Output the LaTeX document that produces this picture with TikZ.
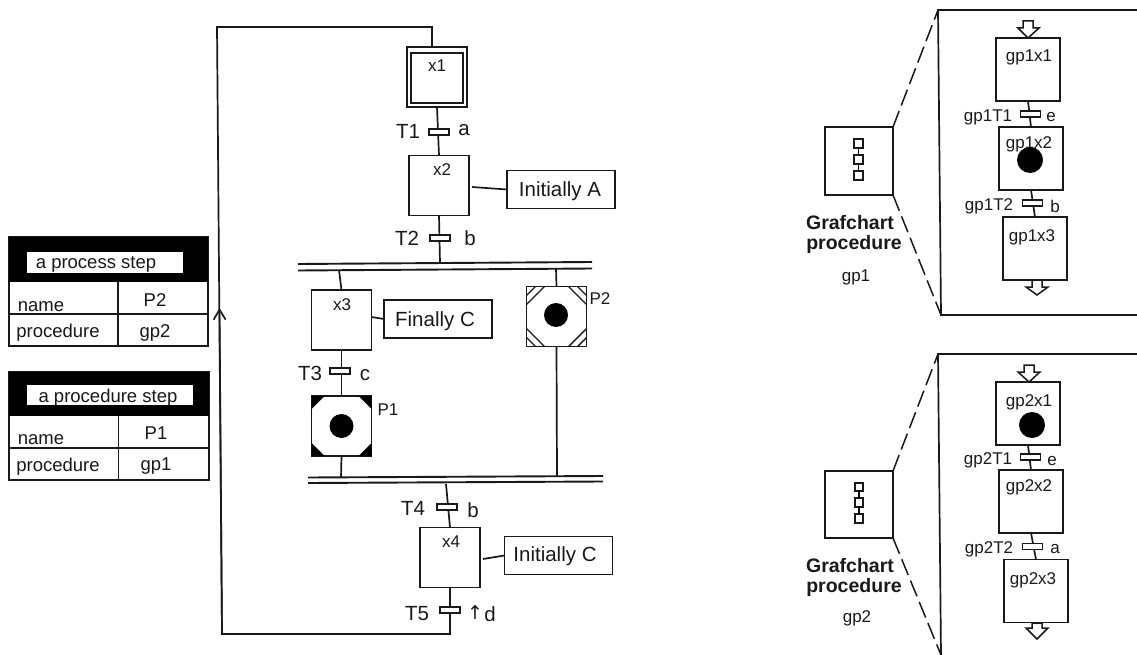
\documentclass[tikz,border=0pt]{standalone}
\usepackage{fontspec}
\setmainfont{Liberation Sans}
\newfontfamily\symf{DejaVu Sans}
\usetikzlibrary{arrows.meta}
\newcommand{\fsz}[1]{\fontsize{#1}{#1}\selectfont}
\tikzset{
 x=1pt,y=-1pt,
 ln/.style={line width=1.7pt,black!90},
 boxn/.style={draw=black!90,line width=1.8pt,fill=white,inner sep=0pt,outer sep=0pt},
 stepn/.style={boxn,minimum width=#1,minimum height=#1},
 stepn/.default=60pt,
 barn/.style={boxn,minimum width=20pt,minimum height=6pt},
 act/.style={boxn,minimum width=108pt,minimum height=38pt},
 txt/.style={inner sep=0pt,outer sep=0pt,font=\fsz{20.5},text=black!90,yshift=-1.5pt},
 stxt/.style={inner sep=0pt,outer sep=0pt,font=\fsz{17},text=black!90,yshift=-1pt},
 btxt/.style={inner sep=0pt,outer sep=0pt,font=\fsz{19.5}\bfseries,text=black!90,yshift=-1pt},
 ttxt/.style={inner sep=0pt,outer sep=0pt,font=\fsz{18.5},text=black!90,yshift=-1.5pt},
 dashln/.style={line width=1.5pt,black!90,dash pattern=on 17pt off 6pt},
 openarrow/.style={draw=black!90,line width=1.5pt,fill=white},
 tok/.style={circle,fill=black,inner sep=0pt,outer sep=0pt,minimum size=#1},
 tinybox/.style={boxn,minimum width=8.5pt,minimum height=8.5pt},
}
\begin{document}
\begin{tikzpicture}
\useasboundingbox (0,0) rectangle (1137,655);
% Left tables
\node[boxn,minimum width=199pt,minimum height=109pt] (t1) at (108.5,291.5) {};
\fill[black] (9,237) rectangle (208,282);
\node[fill=white,minimum width=156pt,minimum height=21pt,inner sep=0pt] (t1t) at (105,262.5) {};
\node[ttxt] at (96,262.5) {a process step};
\draw[ln] (9,314) -- (208,314) (118,282) -- (118,346);
\node[ttxt] at (41,305) {name};
\node[ttxt] at (155,299) {P2};
\node[ttxt] at (58,331) {procedure};
\node[ttxt] at (155,331) {gp2};
\node[boxn,minimum width=200pt,minimum height=108pt] (t2) at (109,426) {};
\fill[black] (9,372) rectangle (209,416);
\node[fill=white,minimum width=166pt,minimum height=20pt,inner sep=0pt] (t2t) at (110,395) {};
\node[ttxt] at (108,396) {a procedure step};
\draw[ln] (9,448) -- (209,448) (118.5,416) -- (118.5,480);
\node[ttxt] at (41,438) {name};
\node[ttxt] at (156,432) {P1};
\node[ttxt] at (58,465) {procedure};
\node[ttxt] at (156,465) {gp1};
% Grafcet nodes
\node[stepn] (x1) at (437,77) {};
\draw[line width=2.1pt,black!90] (411,53) rectangle (463,103);
\node[stxt] at (437,65) {x1};
\node[stepn] (x2) at (439,185.5) {};
\node[stxt] at (442,169) {x2};
\node[act] (ia) at (561,189.5) {};
\node[txt] at (560,190) {Initially A};
\node[stepn] (x3) at (341.5,320) {};
\node[stxt] at (342,304) {x3};
\node[act] (fc) at (438,319) {};
\node[txt] at (435,320) {Finally C};
\node[stepn] (p1) at (341.5,426) {};
\node[stepn] (p2) at (556.5,316.5) {};
\node[stepn] (x4) at (450,557.5) {};
\node[stxt] at (451,541) {x4};
\node[act] (ic) at (558.5,555.5) {};
\node[txt] at (555,555) {Initially C};
% Parallel bars
\coordinate (b1l) at (298,264); \coordinate (b1r) at (592,262);
\coordinate (b2l) at (298,270.5); \coordinate (b2r) at (592,268.5);
\coordinate (b3l) at (308,477.5); \coordinate (b3r) at (603,476);
\coordinate (b4l) at (308,483); \coordinate (b4r) at (603,481.5);
\draw[line width=1.9pt,black!90] (b1l)--(b1r) (b2l)--(b2r) (b3l)--(b3r) (b4l)--(b4r);
% Transitions
\coordinate (t2e) at (440,263);
\coordinate (s3) at (339,270); \coordinate (s2) at (556,268.5);
\coordinate (e1) at (341,477.5); \coordinate (e2) at (557,476.5);
\coordinate (t4s) at (446,484);
\coordinate (loopb) at (450,634); \coordinate (loopc) at (222,634);
\coordinate (loopd) at (217,27); \coordinate (loope) at (432,27);
\coordinate (arr) at (219.5,308);
\draw[ln] (x1.south) -- (x2.north);
\draw[ln] (x2.south) -- (t2e);
\draw[ln] (s3) -- (x3.north);
\draw[ln] (x3.south) -- (p1.north);
\draw[ln] (p1.south) -- (e1);
\draw[ln] (s2) -- (p2.north);
\draw[ln] (p2.south) -- (e2);
\draw[ln] (t4s) -- (x4.north);
\draw[ln] (x4.south) -- (loopb) -- (loopc) -- (loopd) -- (loope) -- ([xshift=-5pt]x1.north);
\draw[ln,-{Straight Barb[length=10pt,width=12pt,line width=1.7pt]}] (loopc) -- (arr);
\draw[ln] ([shift={(3,1.5)}]x2.east) -- (ia.west);
\draw[ln] ([shift={(0,-3)}]x3.east) -- (fc.west);
\draw[ln] ([shift={(3,1.5)}]x4.east) -- (ic.west);
\node[barn] (T1) at (439,132) {};
\node[barn] (T2) at (440,238) {};
\node[barn] (T3) at (340,371) {};
\node[barn] (T4) at (447,507) {};
\node[barn] (T5) at (450,610) {};
\node[txt] at (408,130) {T1}; \node[txt] at (464,129) {a};
\node[txt] at (407,237) {T2}; \node[txt] at (470,237) {b};
\node[txt] at (310,372) {T3}; \node[txt] at (365,374) {c};
\node[txt] at (413,507) {T4}; \node[txt] at (473,509) {b};
\node[txt] at (417,612) {T5}; \node[txt] at (490,613) {d};
\node[inner sep=0pt,font=\symf\fsz{19},text=black!90] at (475,613) {↑};
% P1 / P2 details
\foreach \sx/\sy in {-1/-1,1/-1,-1/1,1/1}{
 \fill[black] (341.5+\sx*30,426+\sy*30) -- (341.5+\sx*30-\sx*13,426+\sy*30) -- (341.5+\sx*30,426+\sy*30-\sy*13) -- cycle;
 \draw[line width=1.4pt,black!90] (556.5+\sx*30,316.5+\sy*30-\sy*18) -- (556.5+\sx*30-\sx*18,316.5+\sy*30);
 \draw[line width=1.4pt,black!90] (556.5+\sx*30,316.5+\sy*30-\sy*9) -- (556.5+\sx*30-\sx*9,316.5+\sy*30);
}
\node[tok=24pt] at (341.5,426) {};
\node[tok=24pt] at (556,315) {};
\node[stxt] at (388,409) {P1};
\node[stxt] at (600,298) {P2};
% Grafchart procedure gp1
\node[boxn,minimum width=68pt,minimum height=68pt] (g1) at (859,161) {};
\node[tinybox] (i11) at (858.5,143.5) {};
\node[tinybox] (i12) at (858.5,159.5) {};
\node[tinybox] (i13) at (858.5,175.5) {};
\draw[line width=1.4pt] (i11) -- (i12) (i12) -- (i13);
\node[btxt] at (850,222) {Grafchart};
\node[btxt] at (854,243) {procedure};
\node[stxt] at (856,276) {gp1};
\coordinate (z1a) at (938,10); \coordinate (z1b) at (941,315);
\coordinate (z1c) at (1137,10); \coordinate (z1d) at (1137,315);
\draw[dashln] (g1.north east) -- (z1a);
\draw[dashln] (g1.south east) -- (z1b);
\draw[ln] (z1c) -- (z1a) -- (z1b) -- (z1d);
\node[stepn=63pt,minimum width=64pt] (a1) at (1028,69.5) {};
\node[stepn=63pt,minimum width=64pt] (a2) at (1031,158.5) {};
\node[stepn=63pt,minimum width=64pt] (a3) at (1035,248.5) {};
\draw[ln] (a1.south) -- (a2.north);
\draw[ln] (a2.south) -- (a3.north);
\node[barn] (b11) at (1030.5,114) {};
\node[barn] (b12) at (1032.5,203) {};
\node[stxt] at (1029,56) {gp1x1};
\node[stxt] at (1029,143) {gp1x2};
\node[stxt] at (1032,236) {gp1x3};
\node[tok=26pt] at (1030,160) {};
\node[stxt] at (988,116) {gp1T1}; \node[stxt] at (1051,116) {e};
\node[stxt] at (989,205) {gp1T2}; \node[stxt] at (1055,205) {b};
\draw[openarrow] (1023,21) -- (1033,21) -- (1033,28) -- (1039,28) -- (1028,38) -- (1018,28) -- (1023,28) -- cycle;
\draw[openarrow] (1032,280) -- (1042,280) -- (1042,287) -- (1048,287) -- (1037,295) -- (1026,287) -- (1032,287) -- cycle;
% Grafchart procedure gp2
\node[boxn,minimum width=68pt,minimum height=67pt] (g2) at (859,504.5) {};
\node[tinybox] (i21) at (859,487) {};
\node[tinybox] (i22) at (859,502.5) {};
\node[tinybox] (i23) at (859,518.5) {};
\draw[line width=1.4pt] (i21) -- (i22) (i22) -- (i23);
\node[btxt] at (850,565) {Grafchart};
\node[btxt] at (854,586) {procedure};
\node[stxt] at (857,617) {gp2};
\coordinate (z2a) at (938,354); \coordinate (z2b) at (941,655);
\coordinate (z2c) at (1137,354);
\draw[dashln] (g2.north east) -- (z2a);
\draw[dashln] (g2.south east) -- (z2b);
\draw[ln] (z2c) -- (z2a) -- (z2b);
\node[stepn=63pt,minimum width=64pt] (c1) at (1028,413.5) {};
\node[stepn=63pt,minimum width=64pt] (c2) at (1031,501.5) {};
\node[stepn=63pt,minimum width=64pt] (c3) at (1036,591) {};
\draw[ln] (c1.south) -- (c2.north);
\draw[ln] (c2.south) -- (c3.north);
\node[barn] (b21) at (1030.5,457) {};
\node[barn] (b22) at (1032.5,546.5) {};
\node[stxt] at (1029,401) {gp2x1};
\node[stxt] at (1029,486) {gp2x2};
\node[stxt] at (1033,579) {gp2x3};
\node[tok=26pt] at (1032,425) {};
\node[stxt] at (988,459) {gp2T1}; \node[stxt] at (1052,460) {e};
\node[stxt] at (989,548) {gp2T2}; \node[stxt] at (1055,548) {a};
\draw[openarrow] (1024,365) -- (1034,365) -- (1034,372) -- (1040,372) -- (1029,382) -- (1018,372) -- (1024,372) -- cycle;
\draw[openarrow] (1032,623) -- (1042,623) -- (1042,628) -- (1048,628) -- (1037,639) -- (1026,628) -- (1032,628) -- cycle;
\end{tikzpicture}
\end{document}
